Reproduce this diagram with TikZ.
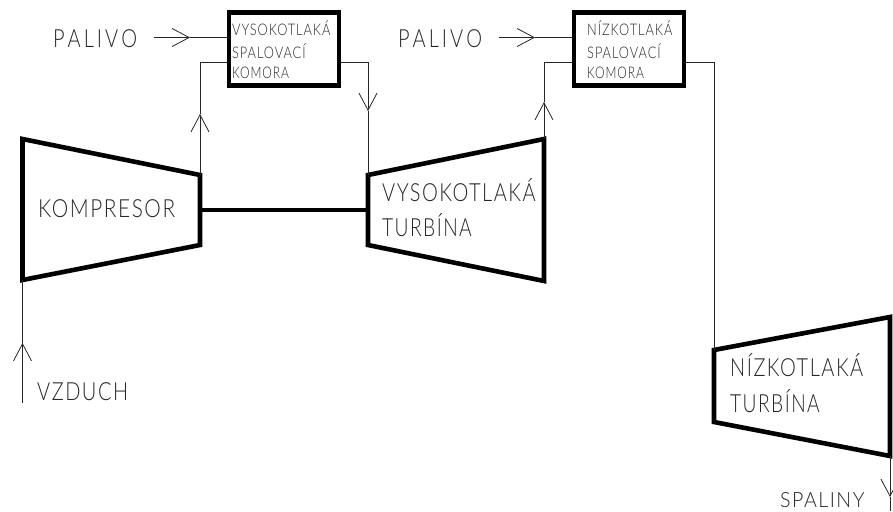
\documentclass[tikz,border=0pt]{standalone}
\usepackage{fontspec}
\setmainfont{Lato Light}[FakeStretch=0.8,LetterSpace=6]
\usetikzlibrary{arrows.meta}

\tikzset{
  wall/.style={line width=4.6pt,line join=miter},
  flow/.style={line width=1pt,black!85},
  barb/.style={-{Straight Barb[length=17pt,width=18pt,line width=0.8pt]}},
  bigtext/.style={anchor=base west,inner sep=0pt,black!85,font=\fontsize{25}{25}\selectfont},
  smalltext/.style={anchor=base west,inner sep=0pt,black!85,font=\fontsize{16}{16}\selectfont},
  chamber/.style={draw,wall,minimum width=110pt,minimum height=73pt,inner sep=0pt},
  wider/.style={xscale=#1,transform shape}
}

\begin{document}
\begin{tikzpicture}[x=1pt,y=-1pt]
  \useasboundingbox (0,0) rectangle (893,511);

  % chambers
  \node [chamber] (hpbox) at (284,49) {};
  \node [chamber] (lpbox) at (629,49) {};

  % compressor
  \coordinate (ka) at (22.5,139);
  \coordinate (kb) at (200,175);
  \coordinate (kc) at (200,245);
  \coordinate (kd) at (22.5,280);
  \draw [wall] (ka) -- (kb) -- (kc) -- (kd) -- cycle;

  % high pressure turbine
  \coordinate (ha) at (368,175);
  \coordinate (hb) at (544,139);
  \coordinate (hc) at (544,281);
  \coordinate (hd) at (368,245);
  \draw [wall] (ha) -- (hb) -- (hc) -- (hd) -- cycle;

  % low pressure turbine
  \coordinate (la) at (714,350);
  \coordinate (lb) at (890,317);
  \coordinate (lc) at (890,456);
  \coordinate (ld) at (714,422);
  \draw [wall] (la) -- (lb) -- (lc) -- (ld) -- cycle;

  % shaft
  \coordinate (ks) at (200,210);
  \coordinate (hs) at (368,210);
  \draw [wall] (ks) -- (hs);

  % fuel
  \coordinate (fa) at (154,37.5);
  \coordinate (fb) at (190,37.5);
  \coordinate (fc) at (227,37.5);
  \coordinate (ga) at (499,37.5);
  \coordinate (gb) at (535,37.5);
  \coordinate (gc) at (572,37.5);
  \draw [flow,barb] (fa) -- (fb);
  \draw [flow] (fb) -- (fc);
  \draw [flow,barb] (ga) -- (gb);
  \draw [flow] (gb) -- (gc);

  % air, gas
  \coordinate (va) at (22.5,403);
  \coordinate (vb) at (22.5,343);
  \draw [flow,barb] (va) -- (vb);
  \draw [flow] (vb) -- (kd);

  \coordinate (pa) at (227,62);
  \coordinate (pb) at (200,62);
  \coordinate (pc) at (200,114);
  \draw [flow,barb] (kb) -- (pc);
  \draw [flow] (pc) -- (pb) -- (pa);

  \coordinate (qa) at (341,62);
  \coordinate (qb) at (368,62);
  \coordinate (qc) at (368,111);
  \draw [flow] (qa) -- (qb);
  \draw [flow,barb] (qb) -- (qc);
  \draw [flow] (qc) -- (ha);

  \coordinate (ra) at (572,62);
  \coordinate (rb) at (544,62);
  \coordinate (rc) at (544,102);
  \draw [flow,barb] (hb) -- (rc);
  \draw [flow] (rc) -- (rb) -- (ra);

  \coordinate (sa) at (686,62);
  \coordinate (sb) at (714,62);
  \draw [flow] (sa) -- (sb) -- (la);

  \coordinate (ta) at (890,497);
  \coordinate (tb) at (890,511);
  \draw [flow,barb] (lc) -- (ta);
  \draw [flow] (ta) -- (tb);

  % labels
  \node [bigtext] (palivoa) at (53,48) {P\kern3pt A\kern3pt L\kern3pt I\kern3pt V\kern3pt O};
  \node [bigtext] (palivob) at (398,48) {P\kern3pt A\kern3pt L\kern3pt I\kern3pt V\kern3pt O};
  \node [bigtext,wider=1.04] (kompresor) at (38,217) {KOMPRESOR};
  \node [bigtext] (vysokot) at (382,201) {VYSOKOTLAKÁ};
  \node [bigtext,wider=0.96] (turbinaa) at (382,236) {TURBÍNA};
  \node [bigtext] (nizkot) at (730,376) {NÍZKOTLAKÁ};
  \node [bigtext,wider=0.96] (turbinab) at (730,412) {TURBÍNA};
  \node [bigtext] (vzduch) at (37,400) {VZDUCH};
  \node [bigtext,font=\fontsize{21}{21}\selectfont,wider=1.17] (spaliny) at (780,507) {SPALINY};

  \node [smalltext] (hpa) at (232,36) {VYSOKOTLAKÁ};
  \node [smalltext] (hpb) at (232,59) {SPALOVACÍ};
  \node [smalltext,wider=0.94] (hpc) at (232,78) {KOMORA};
  \node [smalltext] (lpa) at (587,36) {NÍZKOTLAKÁ};
  \node [smalltext] (lpb) at (587,59) {SPALOVACÍ};
  \node [smalltext,wider=0.94] (lpc) at (587,78) {KOMORA};
\end{tikzpicture}
\end{document}
